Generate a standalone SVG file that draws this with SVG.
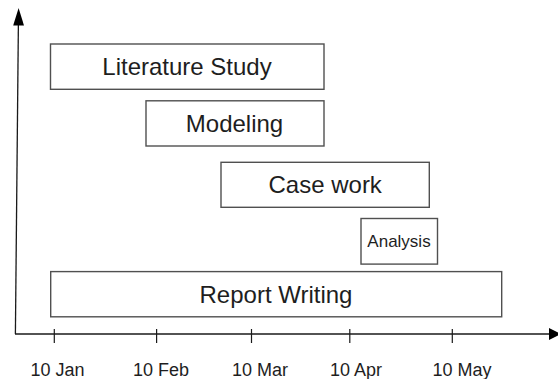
<svg xmlns="http://www.w3.org/2000/svg" width="558" height="379" viewBox="0 0 558 379">
  <style>
    .bar { fill: #ffffff; stroke: #505050; stroke-width: 1.4; }
    .lbl { font-family: "Liberation Sans", Arial, sans-serif; fill: #1e1e1e; text-anchor: middle; }
    .big { font-size: 24px; }
    .small { font-size: 17px; }
    .tick-lbl { font-family: "Liberation Sans", Arial, sans-serif; fill: #1e1e1e; font-size: 18px; text-anchor: middle; }
    .axis { stroke: #1a1a1a; stroke-width: 1.3; fill: none; }
    .tick { stroke: #1a1a1a; stroke-width: 1.2; }
  </style>
  <rect width="558" height="379" fill="#ffffff"/>

  <!-- axes, ticks and time labels -->
  <g id="connectors">
    <line class="axis" x1="18.4" y1="22" x2="15.4" y2="334"/>
    <polygon points="18.6,8 13.2,25.5 24,25.5" fill="#000000"/>
    <line class="axis" x1="15" y1="334" x2="550" y2="334"/>
    <polygon points="549,328 561,334 549,340" fill="#000000"/>
    <line class="tick" x1="54.3" y1="329" x2="54.3" y2="343"/>
    <line class="tick" x1="156.6" y1="329" x2="156.6" y2="343"/>
    <line class="tick" x1="251.5" y1="329" x2="251.5" y2="343"/>
    <line class="tick" x1="349.8" y1="329" x2="349.8" y2="343"/>
    <line class="tick" x1="452.3" y1="329" x2="452.3" y2="343"/>
  </g>

  <g id="axis-labels">
    <text class="tick-lbl" x="57.5" y="376">10 Jan</text>
    <text class="tick-lbl" x="161" y="376">10 Feb</text>
    <text class="tick-lbl" x="260" y="376">10 Mar</text>
    <text class="tick-lbl" x="356" y="376">10 Apr</text>
    <text class="tick-lbl" x="462" y="376">10 May</text>
  </g>

  <!-- task bars -->
  <g id="literature-study">
    <rect class="bar" x="50.5" y="44" width="273.5" height="45.3"/>
    <text class="lbl big" x="187" y="75.2">Literature Study</text>
  </g>
  <g id="modeling">
    <rect class="bar" x="146" y="100.8" width="178" height="45.2"/>
    <text class="lbl big" x="234.5" y="131.8">Modeling</text>
  </g>
  <g id="case-work">
    <rect class="bar" x="221" y="162.3" width="208.3" height="45"/>
    <text class="lbl big" x="325.2" y="193">Case work</text>
  </g>
  <g id="analysis">
    <rect class="bar" x="361" y="218.5" width="76.5" height="45.6"/>
    <text class="lbl small" x="399" y="247">Analysis</text>
  </g>
  <g id="report-writing">
    <rect class="bar" x="50.7" y="271.6" width="451" height="45.2"/>
    <text class="lbl big" x="276" y="303">Report Writing</text>
  </g>
</svg>
